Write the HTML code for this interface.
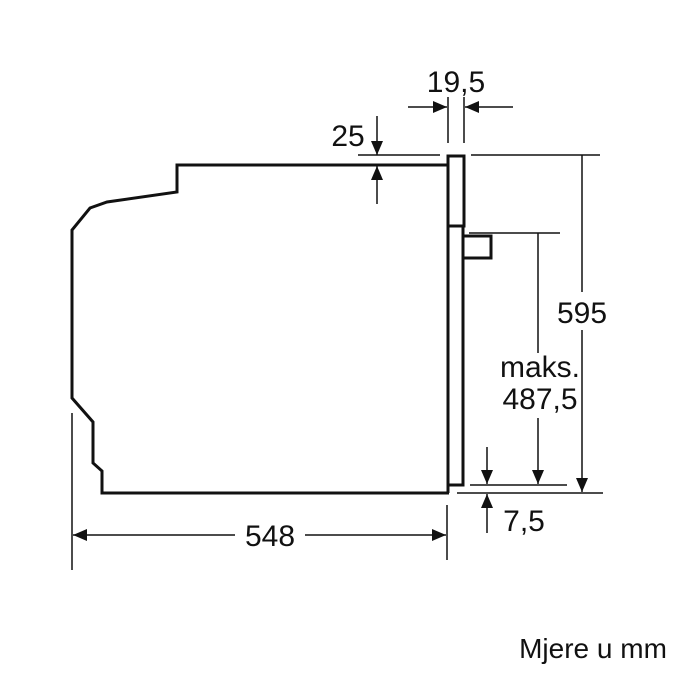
<!DOCTYPE html>
<html><head><meta charset="utf-8"><style>
html,body{margin:0;padding:0;background:#fff;}
svg{display:block}
text{font-family:"Liberation Sans",sans-serif;fill:#111;}
</style></head><body>
<svg width="700" height="700" viewBox="0 0 700 700" xmlns="http://www.w3.org/2000/svg">
<defs>
<marker id="a" markerWidth="14" markerHeight="12" refX="14" refY="6" orient="auto" markerUnits="userSpaceOnUse">
<path d="M0,0 L14,6 L0,12 z" fill="#111"/></marker>
</defs>
<g fill="none" stroke="#111" stroke-width="3" stroke-linejoin="miter">
<path d="M447,165 L177,165 L177,192 L107,202 L90,208 L72,230 L72,398 L93,422 L93,463 L102,471 L102,493 L449,493"/>
<path d="M448,493 L448,226 L463,226 L463,485 L449,485"/>
<rect x="448" y="156" width="16" height="70"/>
<path d="M464,236 L491,236 L491,258 L464,258"/>
</g>
<g stroke="#111" stroke-width="1.5" fill="none">
<line x1="448" y1="97" x2="448" y2="143"/>
<line x1="464" y1="97" x2="464" y2="143"/>
<line x1="408" y1="107" x2="447" y2="107" marker-end="url(#a)"/>
<line x1="513" y1="107" x2="465" y2="107" marker-end="url(#a)"/>
<line x1="358" y1="155" x2="440" y2="155"/>
<line x1="377" y1="116" x2="377" y2="155" marker-end="url(#a)"/>
<line x1="377" y1="204" x2="377" y2="166" marker-end="url(#a)"/>
<line x1="471" y1="155" x2="600" y2="155"/>
<line x1="469" y1="233" x2="560" y2="233"/>
<line x1="470" y1="485" x2="567" y2="485"/>
<line x1="457" y1="493" x2="603" y2="493"/>
<line x1="582" y1="155" x2="582" y2="292"/>
<line x1="582" y1="330" x2="582" y2="492" marker-end="url(#a)"/>
<line x1="538" y1="233" x2="538" y2="353"/>
<line x1="538" y1="418" x2="538" y2="484" marker-end="url(#a)"/>
<line x1="487" y1="447" x2="487" y2="484" marker-end="url(#a)"/>
<line x1="487" y1="533" x2="487" y2="494" marker-end="url(#a)"/>
<line x1="72" y1="413" x2="72" y2="570"/>
<line x1="447" y1="505" x2="447" y2="560"/>
<line x1="235" y1="535" x2="73" y2="535" marker-end="url(#a)"/>
<line x1="305" y1="535" x2="446" y2="535" marker-end="url(#a)"/>
</g>
<g font-size="30">
<text x="456" y="92" text-anchor="middle">19,5</text>
<text x="348" y="146" text-anchor="middle">25</text>
<text x="582" y="323" text-anchor="middle">595</text>
<text x="540" y="377" text-anchor="middle">maks.</text>
<text x="540" y="409" text-anchor="middle">487,5</text>
<text x="524" y="531" text-anchor="middle">7,5</text>
<text x="270" y="546" text-anchor="middle">548</text>
</g>
<text x="593" y="658" font-size="28" text-anchor="middle">Mjere u mm</text>
</svg>
</body></html>
